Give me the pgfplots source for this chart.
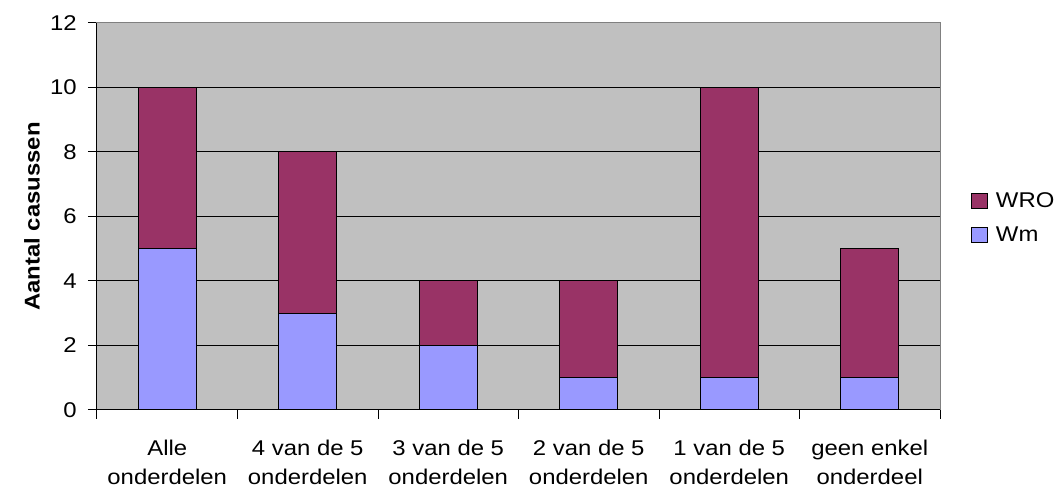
\documentclass[border=0pt]{standalone}
\usepackage{fontspec}
\setmainfont{Liberation Sans}[FakeStretch=1.12]
\usepackage{pgfplots}
\pgfplotsset{compat=1.18}
\definecolor{wro}{HTML}{993366}
\definecolor{wm}{HTML}{9999FF}
\definecolor{bg}{HTML}{C0C0C0}
\begin{document}
\begin{tikzpicture}
\path[use as bounding box] (-72.75pt,-60.75pt) rectangle (719.25pt,307.5pt);
\begin{axis}[
  scale only axis,
  width=632.25pt, height=290.25pt,
  at={(0,0)}, anchor=south west,
  ybar stacked, bar width=43.5pt,
  xmin=-0.5, xmax=5.5, ymin=0, ymax=12,
  ytick={0,2,...,12},
  xtick={0,...,5},
  xticklabels={Alle\\onderdelen,4 van de 5\\onderdelen,3 van de 5\\onderdelen,2 van de 5\\onderdelen,1 van de 5\\onderdelen,geen enkel\\onderdeel},
  minor xtick={-0.5,0.5,...,5.5},
  major x tick style={draw=none},
  tick align=outside, major tick length=6.75pt, minor tick length=6.75pt,
  tick style={black, line width=0.75pt},
  xtick pos=bottom, ytick pos=left,
  ymajorgrids, grid style={black, line width=0.75pt},
  axis background/.style={fill=bg},
  axis line style={draw=gray, line width=0.75pt},
  /pgf/number format/assume math mode=true,
  ticklabel style={font=\fontsize{16pt}{19pt}\selectfont},
  xticklabel style={align=center, font=\fontsize{16pt}{21.75pt}\selectfont, yshift=-12.5pt},
  yticklabel style={xshift=-5pt},
  ylabel={\textbf{Aantal casussen}},
  ylabel style={at={(rel axis cs:0,0.5)}, yshift=48.75pt, anchor=center, font=\fontsize{16pt}{19pt}\selectfont},
  legend style={at={(rel axis cs:1.037,0.496)}, anchor=west, draw=none, fill=none,
    font=\fontsize{16pt}{19pt}\selectfont, row sep=9pt, inner sep=0pt},
  legend cell align=left,
  legend image code/.code={\draw[#1, draw=black, line width=0.75pt] (0cm,-0.2cm) rectangle (0.4cm,0.2cm); \path (0.55cm,0);},
  reverse legend,
  after end axis/.code={\draw[black, line width=0.75pt] (rel axis cs:0,1) -- (rel axis cs:0,0) -- (rel axis cs:1,0);},
]
\addplot[fill=wm, draw=black, line width=0.75pt] coordinates {(0,5) (1,3) (2,2) (3,1) (4,1) (5,1)};
\addlegendentry{Wm}
\addplot[fill=wro, draw=black, line width=0.75pt] coordinates {(0,5) (1,5) (2,2) (3,3) (4,9) (5,4)};
\addlegendentry{WRO}
\end{axis}
\end{tikzpicture}
\end{document}
